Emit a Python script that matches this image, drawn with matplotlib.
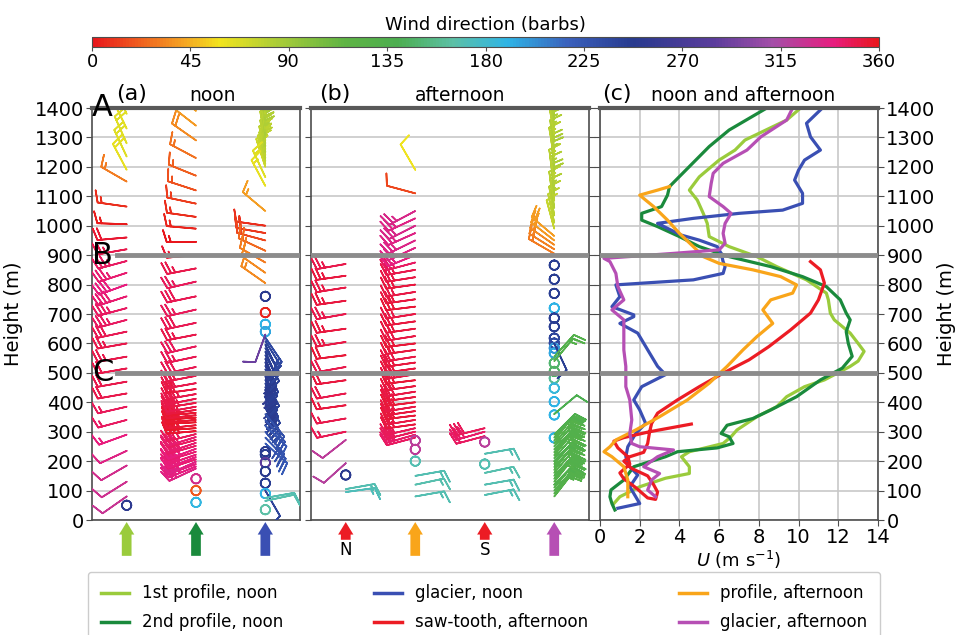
import numpy as np
import matplotlib
matplotlib.use("Agg")
import matplotlib.pyplot as plt
from matplotlib import transforms
from matplotlib.colors import LinearSegmentedColormap, Normalize
from matplotlib.cm import ScalarMappable
from matplotlib.lines import Line2D
from matplotlib.patches import FancyArrowPatch

# ---- colour scale for wind direction ----
cmap_stops = [0, 20, 42, 58, 85, 115, 140, 165, 190, 218, 248, 285, 312, 340, 360]
cmap_colors = ["#e8161c", "#ef5a1e", "#f5a623", "#f2e41e", "#a9cc38", "#5fb444", "#4cae50",
               "#5cc0a6", "#2fb5e6", "#3a60bc", "#283a8e", "#5b3c9c", "#a44ea8", "#e81c7e",
               "#e8161c"]
dir_ticks = [0, 45, 90, 135, 180, 225, 270, 315, 360]

# ---- panel (a), noon barbs: height (m), direction (deg), speed (m/s) ----
a1_z = [80, 130, 185, 235, 290, 340, 385, 430, 470, 515, 555, 600, 640, 680, 720, 760, 800,
        840, 880, 920, 960, 1005, 1065, 1150, 1190, 1235, 1280, 1330, 1380, 50]
a1_dir = [325, 328, 330, 335, 340, 345, 347, 350, 350, 350, 350, 350, 348, 345, 345, 342, 340,
          342, 345, 350, 355, 2, 8, 30, 62, 65, 66, 64, 66, 252]
a1_spd = [3, 3, 3, 3, 4, 5, 5, 6, 6, 6, 7, 8, 9, 10, 11, 12, 12, 11, 10, 7, 6, 5, 4, 4, 6, 6, 6,
          6, 5, 0]

a2_z = [175, 182, 190, 198, 206, 214, 222, 232, 242, 252, 262, 272, 282, 292, 302, 312, 322, 332,
        340, 348, 356, 364, 374, 385, 398, 412, 428, 445, 465, 490, 520, 555, 590, 630, 670, 715,
        760, 810, 855, 900, 945, 990, 1030, 1075, 1120, 1170, 1230, 1290, 1340, 1390,
        60, 100, 140]
a2_dir = [335, 338, 340, 336, 342, 339, 341, 343, 340, 344, 342, 345, 343, 346, 355, 356, 354, 357,
          355, 356, 354, 355, 352, 350, 351, 349, 350, 352, 350, 349, 348, 348, 347, 349, 348, 347,
          348, 347, 349, 355, 0, 5, 8, 12, 18, 22, 28, 35, 38, 42,
          188, 20, 330]
a2_spd = [9, 10, 11, 9, 10, 11, 10, 9, 11, 10, 11, 10, 9, 10, 11, 10, 11, 10,
          10, 11, 10, 11, 10, 9, 10, 9, 10, 9, 9, 8, 9, 8, 9, 8, 9, 8,
          9, 8, 8, 5, 5, 5, 5, 4, 4, 4, 4, 6, 6, 6,
          0, 0, 0]

a3_z = [1200, 1210, 1220, 1230, 1240, 1250, 1260, 1270, 1280, 1290, 1300, 1310, 1320, 1330, 1340,
        1350, 1360, 1370, 1380, 1390, 1400,
        1135, 1165, 1050, 1000, 975, 950, 915, 875, 840, 805,
        760, 705, 665, 640, 630,
        380, 392, 404, 416, 428, 440, 452, 464, 476, 488, 500, 512, 524, 536, 548, 560, 572, 584,
        596, 608, 620,
        260, 280, 300, 320, 340, 360,
        232, 222, 195, 165, 125, 90, 35, 100, 65, 75]
a3_dir = [72, 75, 78, 80, 78, 82, 80, 84, 82, 80, 83, 85, 82, 80, 84, 82, 85, 83, 80, 82, 84,
          62, 65, 40, 8, 10, 15, 25, 30, 35, 35,
          250, 5, 190, 195, 290,
          238, 242, 245, 240, 248, 244, 250, 246, 242, 248, 252, 246, 244, 250, 248, 242, 246, 240,
          244, 238, 236,
          222, 226, 230, 224, 228, 230,
          248, 245, 285, 248, 245, 190, 165, 240, 168, 170]
a3_spd = [6, 5, 6, 7, 6, 5, 6, 7, 6, 5, 6, 7, 6, 6, 5, 6, 7, 6, 5, 6, 6,
          5, 5, 4, 5, 6, 6, 6, 6, 5, 4,
          0, 0, 0, 0, 3,
          6, 7, 6, 8, 7, 6, 7, 8, 9, 7, 8, 9, 8, 7, 6, 7, 6, 5, 6, 5, 4,
          7, 8, 9, 8, 7, 6,
          0, 0, 0, 0, 0, 0, 0, 3, 3, 3]

# ---- panel (b), afternoon barbs ----
b1_z = [95, 105, 193, 272, 153, 300, 345, 390, 430, 475, 520, 560, 605, 650, 700, 745, 790, 830, 870]
b1_dir = [172, 170, 318, 322, 250, 348, 350, 352, 350, 352, 350, 353, 351, 352, 350, 352, 351, 352, 350]
b1_spd = [4, 4, 3, 3, 0, 4, 5, 5, 6, 6, 6, 6, 7, 7, 7, 7, 7, 7, 7]

b2_z = [280, 290, 300, 312, 325, 340, 355, 370, 385, 400, 418, 436, 455, 475, 495, 515, 535, 555,
        578, 600, 625, 650, 675, 700, 725, 750, 775, 800, 825, 850, 875, 900, 925, 950, 975, 1000,
        1025, 1050, 1110, 1190, 270, 240, 200, 150, 120, 80]
b2_dir = [345, 344, 346, 347, 352, 351, 353, 352, 351, 353, 352, 351, 352, 353, 351, 352, 352, 351,
          352, 353, 351, 352, 352, 351, 353, 352, 351, 352, 351, 350, 345, 338, 335, 334, 336, 333,
          335, 332, 15, 60, 320, 322, 170, 170, 168, 170]
b2_spd = [9, 8, 9, 8, 8, 9, 8, 8, 9, 8, 8, 9, 8, 8, 9, 8, 8, 9,
          8, 8, 9, 8, 8, 8, 9, 8, 8, 8, 8, 8, 7, 7, 7, 7, 7, 7,
          7, 7, 3, 3, 0, 0, 0, 5, 5, 5]

b3_z = [285, 300, 312, 265, 190, 225, 160, 120, 85]
b3_dir = [345, 344, 346, 320, 170, 170, 168, 170, 169]
b3_spd = [6, 9, 9, 0, 0, 5, 5, 5, 5]

b4_z = [990, 1010, 1035, 1060, 1085, 1110, 1135, 1160, 1185, 1210, 1235, 1260, 1285, 1310, 1335,
        1360, 1385,
        905, 920, 935, 950, 965,
        866, 818, 770, 720, 686, 657, 618, 601, 584, 567, 533, 505, 482, 448, 402, 357, 279,
        600, 540, 555, 360,
        80, 90, 100, 110, 120, 130, 140, 150, 160, 170, 180, 190, 200, 210, 220, 230, 240, 250,
        260, 270, 280, 290]
b4_dir = [75, 78, 80, 82, 80, 84, 82, 80, 85, 83, 80, 82, 84, 80, 82, 85, 83,
          30, 32, 35, 38, 40,
          245, 245, 245, 190, 245, 245, 240, 235, 200, 195, 150, 145, 160, 185, 190, 190, 190,
          245, 130, 132, 140,
          128, 130, 132, 130, 134, 129, 131, 133, 130, 128, 132, 130, 134, 131, 129, 130, 133, 131,
          130, 128, 132, 135]
b4_spd = [4, 5, 5, 4, 5, 6, 5, 4, 5, 6, 5, 4, 5, 6, 5, 4, 5,
          6, 6, 6, 6, 6,
          0, 0, 0, 0, 0, 0, 0, 0, 0, 0, 0, 0, 0, 0, 0, 0, 0,
          3, 5, 5, 3,
          6, 7, 8, 9, 8, 7, 8, 9, 8, 7, 9, 8, 7, 8, 9, 8, 7, 8, 7, 8, 7, 6]

# ---- panel (c), along-valley wind U (m/s) against height (m) ----
p1_z = [1400, 1359, 1291, 1257, 1223, 1166, 1121, 1087, 1042, 1008, 963, 929, 895, 861, 816, 771,
        748, 703, 680, 635, 600, 573, 540, 522, 476, 453, 419, 385, 351, 306, 283, 260, 232, 215,
        181, 158, 142, 113, 79, 56]
p1_u = [10.1, 9.4, 7.3, 6.8, 6.0, 5.0, 4.5, 4.9, 5.2, 5.4, 5.5, 6.5, 7.9, 8.9, 10.4, 11.4,
        11.5, 11.6, 11.8, 12.6, 13.0, 13.3, 13.0, 12.6, 11.3, 10.3, 9.4, 8.9, 7.9, 6.9, 6.6, 6.2,
        4.5, 4.1, 4.5, 4.5, 3.3, 2.0, 1.0, 0.7]
p2_z = [1400, 1325, 1297, 1269, 1201, 1133, 1104, 1065, 1042, 1019, 997, 963, 929, 895, 861, 827,
        793, 748, 703, 680, 640, 601, 556, 516, 476, 419, 374, 345, 322, 294, 283, 260, 245, 232,
        215, 181, 136, 102, 79, 56, 34]
p2_u = [8.4, 6.5, 6.0, 5.5, 4.5, 3.5, 3.4, 3.1, 2.1, 2.1, 2.9, 4.0, 5.0, 6.5, 8.6, 10.2,
        11.4, 12.1, 12.4, 12.6, 12.4, 12.5, 12.7, 12.2, 11.1, 9.9, 8.6, 7.7, 6.4, 6.1, 6.5, 6.7,
        5.9, 3.9, 3.3, 1.7, 1.2, 0.55, 0.5, 0.6, 0.75]
gn_z = [1400, 1348, 1302, 1257, 1223, 1189, 1155, 1110, 1076, 1053, 1042, 1025, 1008, 991, 968,
        951, 929, 906, 878, 861, 838, 816, 799, 759, 725, 697, 691, 668, 635, 601, 567, 522, 494,
        453, 408, 374, 328, 294, 249, 215, 181, 153, 113, 79, 56, 40]
gn_u = [11.2, 10.4, 10.6, 11.1, 10.3, 10.0, 9.8, 10.2, 10.2, 9.2, 7.0, 4.7, 2.9, 3.4, 4.1,
        5.0, 5.9, 6.1, 6.2, 6.3, 6.2, 4.7, 0.8, 1.0, 0.6, 1.7, 1.7, 1.0, 1.9, 2.2, 2.5, 2.9, 3.3,
        2.1, 1.7, 2.0, 2.3, 1.8, 1.4, 1.3, 1.5, 1.9, 1.5, 1.8, 2.0, 0.9]
st_z = [878, 850, 805, 748, 703, 646, 589, 544, 499, 453, 408, 363, 328, 300, 260, 230, 215, 200,
        175, 150, 120, 95, 70, 75, 110, 140, 160, 190, 215, 245, 268, 280, 300, 326]
st_u = [10.6, 11.1, 11.3, 11.0, 10.6, 9.6, 8.5, 7.5, 6.2, 5.0, 3.9, 2.9, 2.6, 2.5, 2.4, 2.2, 1.5,
        1.2, 1.6, 2.4, 2.7, 2.9, 2.8, 2.4, 1.8, 1.2, 1.0, 1.5, 1.4, 0.9, 0.7, 1.2, 2.5, 4.6]
pa_z = [1133, 1121, 1104, 1087, 1065, 1019, 974, 929, 895, 872, 850, 827, 799, 771, 748, 714, 668,
        623, 578, 522, 465, 408, 351, 306, 272, 249, 232, 215, 181, 136, 102, 79]
pa_u = [3.5, 2.9, 2.0, 2.3, 2.7, 3.4, 4.0, 4.7, 5.2, 6.0, 7.7, 9.1, 9.9, 9.7, 8.6, 8.2, 8.7,
        7.9, 7.2, 6.4, 5.5, 4.4, 3.0, 1.8, 0.8, 0.5, 0.2, 0.6, 1.2, 1.4, 1.4, 1.4]
ga_z = [1400, 1359, 1302, 1257, 1212, 1178, 1144, 1099, 1065, 1042, 1008, 974, 940, 918, 906, 889,
        878, 838, 793, 748, 714, 680, 635, 578, 522, 453, 408, 340, 294, 260, 249, 238, 215, 181,
        158, 136, 102, 79]
ga_u = [9.7, 9.4, 8.1, 7.4, 6.2, 5.7, 5.6, 5.5, 6.2, 6.6, 6.3, 6.2, 6.3, 6.0, 3.7, 0.2,
        0.5, 0.8, 0.9, 1.2, 0.6, 1.2, 1.2, 1.2, 1.3, 1.3, 1.5, 1.6, 1.5, 1.6, 2.0, 3.7, 2.9, 2.2,
        3.0, 2.6, 2.4, 2.8]

line_labels = ["1st profile, noon", "2nd profile, noon", "glacier, noon",
               "saw-tooth, afternoon", "profile, afternoon", "glacier, afternoon"]
line_colors = ["#9acb3c", "#1a8a3c", "#3a4fb3", "#ec1c24", "#f9a51a", "#b64fb4"]

dir_cmap = LinearSegmentedColormap.from_list(
    "winddir", [(s / 360, c) for s, c in zip(cmap_stops, cmap_colors)])
GRID = "#c8c8c8"
SPINE = "0.3"


def draw_barbs(ax, x, z, wdir, spd):
    z = np.asarray(z, float)
    wdir = np.asarray(wdir, float) % 360
    d = np.radians(wdir)
    s = np.asarray(spd, float)
    u = s * np.cos(d)
    v = -s * np.sin(d)
    ax.barbs(np.full(len(z), x), z, u, v, wdir, cmap=dir_cmap, clim=(0, 360),
             length=6.5, linewidth=1.2,
             barb_increments=dict(half=1.5, full=3, flag=30),
             sizes=dict(emptybarb=0.16, height=0.4, spacing=0.14),
             zorder=3)


def draw_arrow(ax, x, color, tail=-0.087):
    trans = transforms.blended_transform_factory(ax.transData, ax.transAxes)
    arr = FancyArrowPatch((x, tail), (x, -0.005), transform=trans, clip_on=False,
                          arrowstyle="simple,head_width=11,head_length=9,tail_width=7",
                          mutation_scale=1, shrinkA=0, shrinkB=0, color=color, lw=0)
    ax.add_patch(arr)


def style_axis(ax):
    ax.set_ylim(0, 1400)
    ax.set_yticks(range(0, 1401, 100))
    ax.grid(axis="y", color=GRID, lw=1.2)
    ax.set_axisbelow(True)
    for sp in ax.spines.values():
        sp.set_color(SPINE)
        sp.set_linewidth(1.2)
    ax.tick_params(axis="both", labelsize=14, color=SPINE, length=4, pad=2)
    ax.axhline(1400, color="0.35", lw=3, zorder=4, clip_on=False)


fig = plt.figure(figsize=(9.57, 6.35), dpi=100)
bot, hgt = 1 - 520 / 635, 412 / 635
ax_a = fig.add_axes([92 / 957, bot, 208 / 957, hgt])
ax_b = fig.add_axes([311 / 957, bot, 278 / 957, hgt])
ax_c = fig.add_axes([600 / 957, bot, 278 / 957, hgt])

# panel (a)
style_axis(ax_a)
ax_a.set_xlim(0, 3)
ax_a.set_xticks([])
ax_a.set_ylabel("Height (m)", fontsize=14, labelpad=8)
draw_barbs(ax_a, 0.5, a1_z, a1_dir, a1_spd)
draw_barbs(ax_a, 1.5, a2_z, a2_dir, a2_spd)
draw_barbs(ax_a, 2.5, a3_z, a3_dir, a3_spd)
for lev in (900, 500):
    ax_a.axhline(lev, xmin=0.12, color="0.55", lw=3.5, zorder=4)
for txt, lev in zip("ABC", (1400, 900, 500)):
    ax_a.text(0.0, lev, txt, fontsize=22, ha="left", va="center", zorder=6, clip_on=False)
for x, c in zip((0.5, 1.5, 2.5), line_colors[:3]):
    draw_arrow(ax_a, x, c)
ax_a.text(0.19, 1.035, "(a)", transform=ax_a.transAxes, fontsize=16, ha="center", va="center")
ax_a.text(0.58, 1.03, "noon", transform=ax_a.transAxes, fontsize=13.5, ha="center", va="center")

# panel (b)
style_axis(ax_b)
ax_b.set_xlim(0, 4)
ax_b.set_xticks([])
ax_b.tick_params(axis="y", labelleft=False, right=True)
draw_barbs(ax_b, 0.5, b1_z, b1_dir, b1_spd)
draw_barbs(ax_b, 1.5, b2_z, b2_dir, b2_spd)
draw_barbs(ax_b, 2.5, b3_z, b3_dir, b3_spd)
draw_barbs(ax_b, 3.5, b4_z, b4_dir, b4_spd)
for lev in (900, 500):
    ax_b.axhline(lev, color="0.55", lw=3.5, zorder=4)
draw_arrow(ax_b, 0.5, line_colors[3], tail=-0.048)
draw_arrow(ax_b, 1.5, line_colors[4])
draw_arrow(ax_b, 2.5, line_colors[3], tail=-0.048)
draw_arrow(ax_b, 3.5, line_colors[5])
trans_b = transforms.blended_transform_factory(ax_b.transData, ax_b.transAxes)
ax_b.text(0.5, -0.073, "N", transform=trans_b, fontsize=12, ha="center", va="center")
ax_b.text(2.5, -0.073, "S", transform=trans_b, fontsize=12, ha="center", va="center")
ax_b.text(0.086, 1.035, "(b)", transform=ax_b.transAxes, fontsize=16, ha="center", va="center")
ax_b.text(0.536, 1.03, "afternoon", transform=ax_b.transAxes, fontsize=13.5,
          ha="center", va="center")

# panel (c)
style_axis(ax_c)
ax_c.set_xlim(0, 14)
ax_c.set_xticks(range(0, 15, 2))
ax_c.grid(axis="x", color=GRID, lw=1.2)
ax_c.yaxis.tick_right()
ax_c.tick_params(axis="y", left=True, right=True, labelleft=False, labelright=True)
ax_c.yaxis.set_label_position("right")
ax_c.set_ylabel("Height (m)", fontsize=14, labelpad=1)
ax_c.set_xlabel("$U$ (m s$^{-1}$)", fontsize=13, labelpad=1)
profiles = [(p1_u, p1_z), (p2_u, p2_z), (gn_u, gn_z), (st_u, st_z), (pa_u, pa_z), (ga_u, ga_z)]
for (u, z), c, lab in zip(profiles, line_colors, line_labels):
    ax_c.plot(u, z, color=c, lw=2.3, label=lab, zorder=3)
for lev in (900, 500):
    ax_c.axhline(lev, color="0.55", lw=3.5, zorder=4)
ax_c.text(0.061, 1.035, "(c)", transform=ax_c.transAxes, fontsize=16, ha="center", va="center")
ax_c.text(0.514, 1.03, "noon and afternoon", transform=ax_c.transAxes, fontsize=13.5,
          ha="center", va="center")

# colour bar
cax = fig.add_axes([92 / 957, 1 - 47 / 635, 787 / 957, 10 / 635])
sm = ScalarMappable(norm=Normalize(0, 360), cmap=dir_cmap)
cb = fig.colorbar(sm, cax=cax, orientation="horizontal", ticks=dir_ticks)
cb.outline.set_edgecolor(SPINE)
cax.tick_params(labelsize=13, color=SPINE, length=3, pad=1)
cax.xaxis.set_label_position("top")
cb.set_label("Wind direction (barbs)", fontsize=13, labelpad=5)

# legend
handles = [Line2D([], [], color=c, lw=2.5) for c in line_colors]
fig.legend(handles, line_labels, loc="upper left", ncol=3, mode="expand",
           bbox_to_anchor=(88 / 957, 1 - 572 / 635, 792 / 957, 0), fontsize=12,
           handlelength=1.7, labelspacing=0.65, borderpad=0.75, borderaxespad=0,
           framealpha=1, edgecolor="#cccccc")

fig.savefig("out.png", dpi=100)
